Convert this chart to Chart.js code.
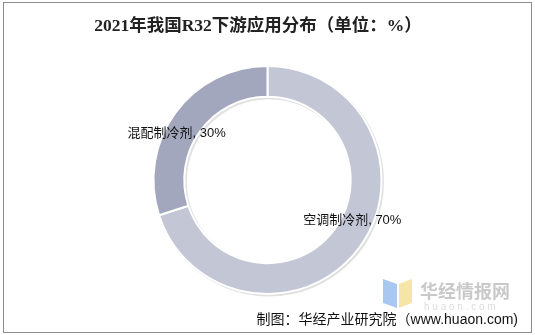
<!DOCTYPE html>
<html>
<head>
<meta charset="utf-8">
<script src="https://cdn.jsdelivr.net/npm/chart.js@4.4.0/dist/chart.umd.min.js"></script>
<style>
  html, body { margin: 0; padding: 0; background: #fff; }
  #wrap { position: relative; width: 535px; height: 335px; }
</style>
</head>
<body>
<div id="wrap"><canvas id="dataChart" width="535" height="335"></canvas></div>
<script>
const categories = ['空调制冷剂', '混配制冷剂'];
const shares = [70, 30];
const sliceColors = ['#c2c6d5', '#a3a7bd'];
const chartTitle = '2021年我国R32下游应用分布（单位：%）';
const sourceNote = '制图：华经产业研究院（www.huaon.com)';

// label nudges relative to each arc's centre point
const labelShift = [[5, -18], [-11, 11]];

const decorPlugin = {
    id: 'decor',
    beforeDraw(chart) {
        const ctx = chart.ctx;
        ctx.save();
        ctx.fillStyle = '#fff';
        ctx.fillRect(0, 0, chart.width, chart.height);
        ctx.strokeStyle = '#8c8c8c';
        ctx.lineWidth = 1;
        ctx.strokeRect(3.5, 2.5, 528, 330);

        // faint shadow under ring
        const arc = chart.getDatasetMeta(0).data[0];
        if (arc) {
            ctx.beginPath();
            ctx.arc(arc.x + 1.5, arc.y + 1.5, arc.outerRadius + 1, 0, Math.PI * 2);
            ctx.arc(arc.x + 1.5, arc.y + 1.5, arc.innerRadius - 1, 0, Math.PI * 2, true);
            ctx.fillStyle = 'rgba(0,0,0,0.12)';
            ctx.fill();
        }

        ctx.fillStyle = '#222';
        ctx.font = 'bold 17.5px "Liberation Serif", "Noto Sans CJK SC", serif';
        ctx.textAlign = 'center';
        ctx.textBaseline = 'middle';
        ctx.fillText(chartTitle, 258, 26);
        ctx.restore();
    },
    afterDraw(chart) {
        const ctx = chart.ctx;
        ctx.save();
        const meta = chart.getDatasetMeta(0);
        ctx.font = '13px "Liberation Sans", "Noto Sans CJK SC", sans-serif';
        ctx.fillStyle = '#111';
        ctx.textAlign = 'center';
        ctx.textBaseline = 'middle';
        meta.data.forEach((arc, i) => {
            const p = arc.tooltipPosition();
            ctx.fillText(categories[i] + ', ' + shares[i] + '%', p.x + labelShift[i][0], p.y + labelShift[i][1]);
        });

        // watermark
        ctx.fillStyle = '#a9c8ef';
        ctx.beginPath();
        ctx.moveTo(383, 279); ctx.lineTo(397, 284); ctx.lineTo(397, 308); ctx.lineTo(383, 303);
        ctx.fill();
        ctx.fillStyle = '#f5e6a8';
        ctx.beginPath();
        ctx.moveTo(399, 284); ctx.lineTo(412, 279); ctx.lineTo(412, 303); ctx.lineTo(399, 308);
        ctx.fill();
        ctx.fillStyle = '#c9c9c9';
        ctx.font = 'bold 18px "Noto Sans CJK SC", sans-serif';
        ctx.textAlign = 'left';
        ctx.fillText('华经情报网', 420, 291);
        ctx.fillStyle = '#dcdcdc';
        ctx.font = '10px "Liberation Sans", sans-serif';
        ctx.fillText('h u a o n . c o m', 424, 307);

        ctx.fillStyle = '#111';
        ctx.font = '14px "Liberation Sans", "Noto Sans CJK SC", sans-serif';
        ctx.textAlign = 'right';
        ctx.fillText(sourceNote, 518, 320);
        ctx.restore();
    }
};

const chart = new Chart(document.getElementById('dataChart'), {
    type: 'doughnut',
    data: {
        labels: categories,
        datasets: [{
            data: shares,
            backgroundColor: sliceColors,
            borderColor: '#ffffff',
            borderWidth: 2
        }]
    },
    options: {
        responsive: false,
        animation: false,
        cutout: '73%',
        layout: { padding: { top: 65, bottom: 40, left: 0, right: 0 } },
        plugins: {
            legend: { display: false },
            tooltip: { enabled: false }
        }
    },
    plugins: [decorPlugin]
});
</script>
</body>
</html>
